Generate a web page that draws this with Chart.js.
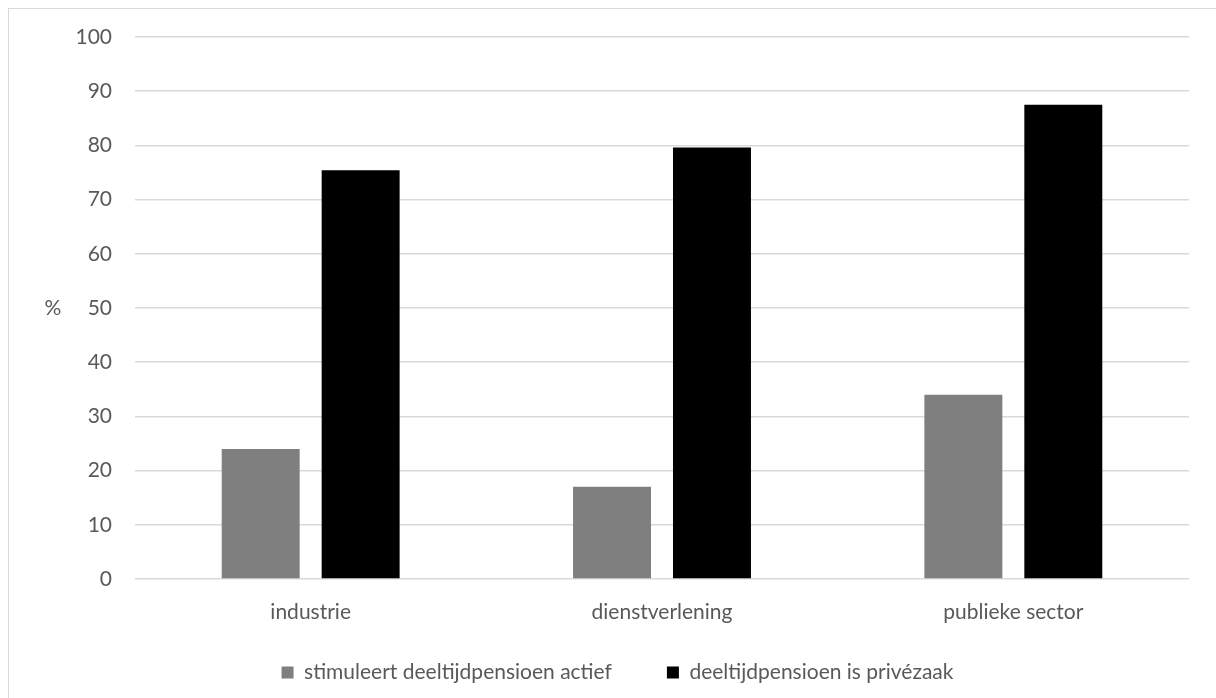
<!DOCTYPE html>
<html lang="nl">
<head>
    <meta charset="UTF-8">
    <title>Deeltijdpensioen per sector</title>
    <script src="https://cdn.jsdelivr.net/npm/chart.js"></script>
    <style>
        body { margin: 0; background: #fff; }
        #wrap { position: relative; width: 1216px; height: 698px; }
        #frame { position: absolute; left: 8px; top: 8px; right: -20px; bottom: -20px; border: 1px solid #d9d9d9; pointer-events: none; }
    </style>
</head>
<body>
    <div id="wrap">
        <canvas id="grafiek" width="1216" height="698"></canvas>
        <div id="frame"></div>
    </div>

    <script>
        let sectoren = ["industrie", "dienstverlening", "publieke sector"];
        let stimuleert = [24, 17, 34];
        let privezaak = [75.4, 79.6, 87.5];
        let reeksNamen = ["stimuleert deeltijdpensioen actief", "deeltijdpensioen is privézaak"];
        let yTicks = [0, 10, 20, 30, 40, 50, 60, 70, 80, 90, 100];

        let tekstKleur = "#595959";
        let lettertype = { family: "Lato, 'Open Sans', sans-serif", size: 21 };

        // "%" staat horizontaal naast de y-as, zoals in Excel
        let procentTitel = {
            id: "procentTitel",
            afterDraw(chart) {
                let ctx = chart.ctx;
                let area = chart.chartArea;
                ctx.save();
                ctx.font = "21px Lato, sans-serif";
                ctx.fillStyle = tekstKleur;
                ctx.textAlign = "center";
                ctx.textBaseline = "middle";
                ctx.fillText("%", area.left - 82, (area.top + area.bottom) / 2);
                ctx.restore();
            }
        };

        let ctx = document.getElementById("grafiek").getContext("2d");
        let chart = new Chart(ctx, {
            type: "bar",
            data: {
                labels: sectoren,
                datasets: [{
                    label: reeksNamen[0],
                    data: stimuleert,
                    backgroundColor: "#7f7f7f"
                }, {
                    label: reeksNamen[1],
                    data: privezaak,
                    backgroundColor: "#000000"
                }]
            },
            options: {
                responsive: false,
                animation: false,
                categoryPercentage: 0.569,
                barPercentage: 0.78,
                layout: { padding: { left: 46, right: 27, top: 37, bottom: 5 } },
                plugins: {
                    tooltip: { enabled: false },
                    legend: {
                        position: "bottom",
                        labels: {
                            boxWidth: 12,
                            boxHeight: 12,
                            padding: 55,
                            color: tekstKleur,
                            font: lettertype
                        }
                    }
                },
                scales: {
                    x: {
                        grid: { display: false },
                        border: { display: false },
                        ticks: { color: tekstKleur, font: lettertype, padding: 13 },
                        afterFit(scale) {
                            scale.height = 28;
                            // labels mogen onder de (smalle) as-strook uitsteken
                            scale._computeLabelArea = () => undefined;
                        }
                    },
                    y: {
                        min: 0,
                        max: 100,
                        afterBuildTicks(scale) { scale.ticks = yTicks.map(v => ({ value: v })); },
                        grid: { color: "#d9d9d9", lineWidth: 1.5, drawTicks: false },
                        border: { display: false },
                        ticks: { color: tekstKleur, font: lettertype, padding: 23 },
                        afterFit(scale) { scale.width = 89; }
                    }
                }
            },
            plugins: [procentTitel]
        });
    </script>
</body>
</html>
